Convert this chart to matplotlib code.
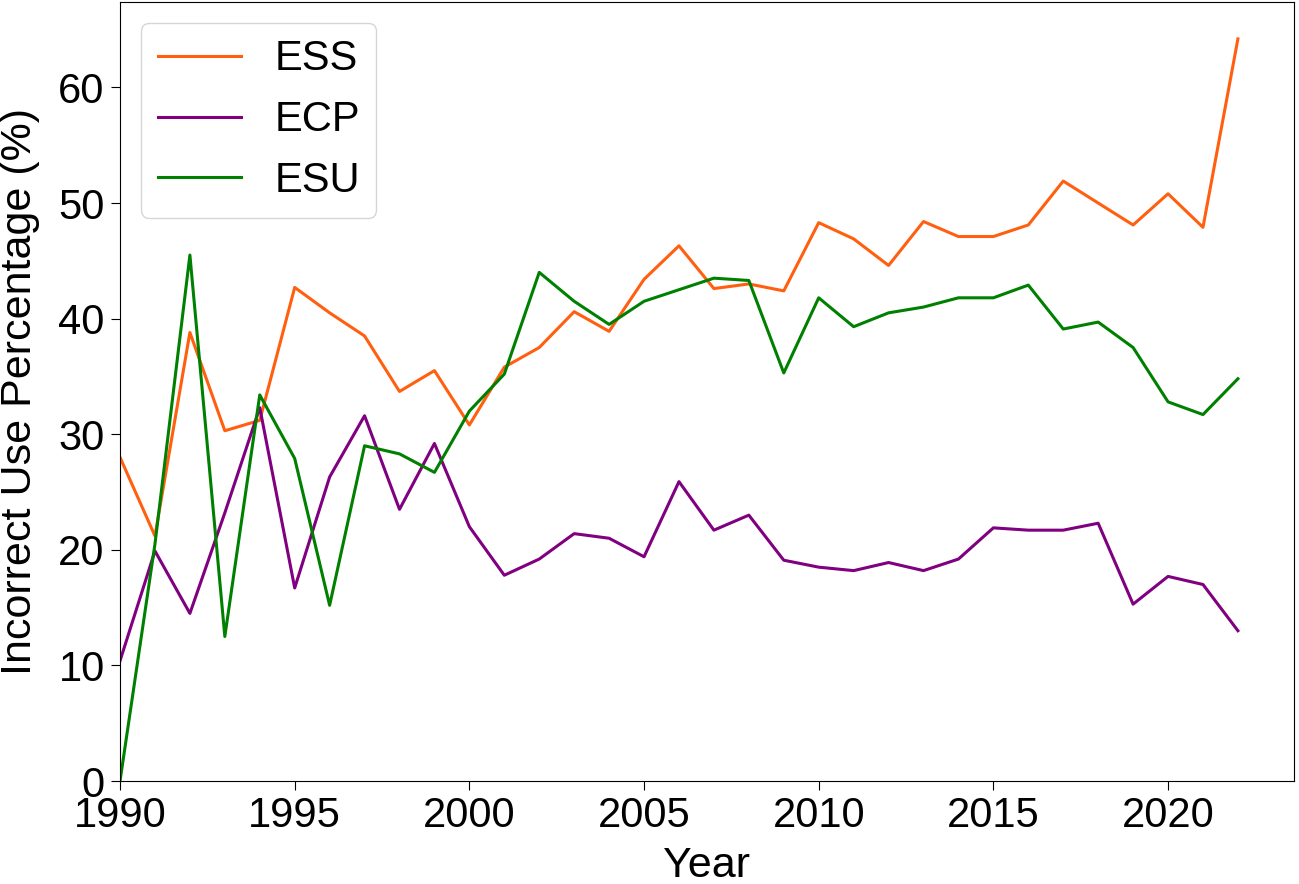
import matplotlib
matplotlib.use('Agg')
from matplotlib import pyplot as plt

plt.rcParams['font.family'] = ['Liberation Sans', 'DejaVu Sans']

years = list(range(1990, 2023))

ess = [28.0, 21.2, 38.8, 30.3, 31.2, 42.7, 40.5, 38.5, 33.7, 35.5,
       30.8, 35.8, 37.5, 40.6, 38.9, 43.4, 46.3, 42.6, 43.0, 42.4,
       48.3, 46.9, 44.6, 48.4, 47.1, 47.1, 48.1, 51.9, 50.0, 48.1,
       50.8, 47.9, 64.2]

ecp = [10.4, 19.9, 14.5, 23.2, 32.3, 16.7, 26.3, 31.6, 23.5, 29.2,
       22.0, 17.8, 19.2, 21.4, 21.0, 19.4, 25.9, 21.7, 23.0, 19.1,
       18.5, 18.2, 18.9, 18.2, 19.2, 21.9, 21.7, 21.7, 22.3, 15.3,
       17.7, 17.0, 13.0]

esu = [0.0, 20.5, 45.5, 12.5, 33.4, 27.9, 15.2, 29.0, 28.3, 26.7,
       32.0, 35.2, 44.0, 41.5, 39.5, 41.5, 42.5, 43.5, 43.3, 35.3,
       41.8, 39.3, 40.5, 41.0, 41.8, 41.8, 42.9, 39.1, 39.7, 37.5,
       32.8, 31.7, 34.8]

series = ['ESS', 'ECP', 'ESU']
colors = ['#ff5f0f', 'purple', 'green']


def main():
    fig, ax = plt.subplots(figsize=(12.99, 8.84), dpi=100)
    fig.subplots_adjust(left=0.0924, right=0.996, bottom=0.1165, top=0.998)

    for name, vals, col in zip(series, [ess, ecp, esu], colors):
        ax.plot(years, vals, color=col, linewidth=2.2, label=name)

    ax.set_xlim(left=1990)
    ax.set_ylim(bottom=0)
    ax.set_xticks([1990, 1995, 2000, 2005, 2010, 2015, 2020])
    ax.tick_params(labelsize=30, length=6.5, pad=4.5)
    ax.set_xlabel('Year', fontsize=31, labelpad=7)
    ax.set_ylabel('Incorrect Use Percentage (%)', fontsize=31, labelpad=13)
    ax.legend(loc='upper left', fontsize=30)

    fig.savefig('out.png', dpi=100)


if __name__ == '__main__':
    main()
